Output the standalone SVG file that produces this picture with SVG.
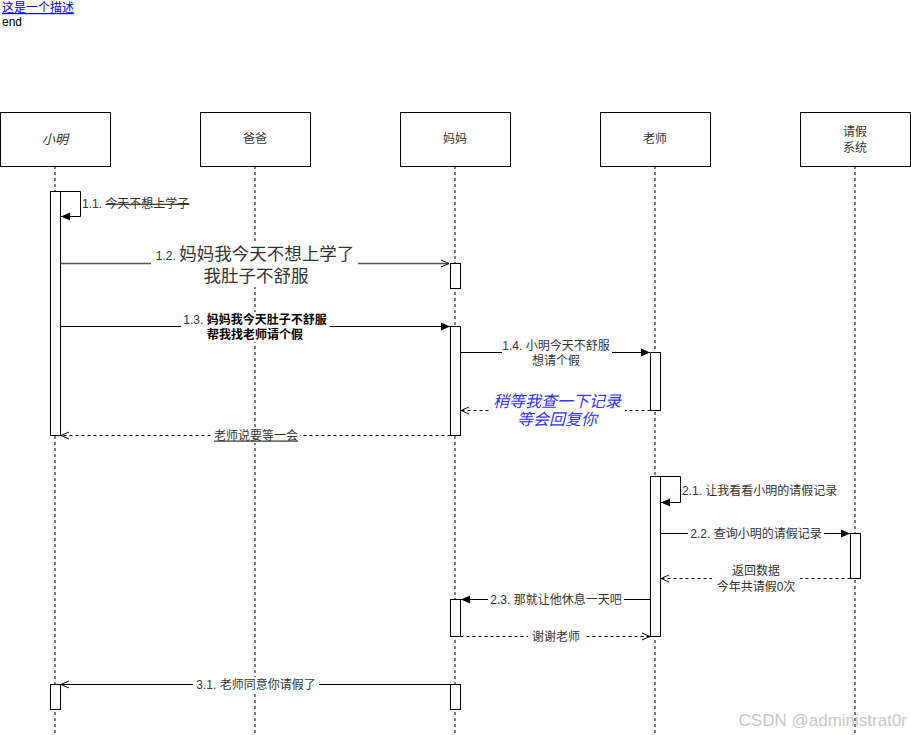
<svg xmlns="http://www.w3.org/2000/svg" width="911" height="735" viewBox="0 0 911 735">
<style>
text{font-family:"Liberation Sans","Noto Sans CJK SC",sans-serif;font-size:12px;fill:#333}
.c{text-anchor:middle}
.box{fill:#fff;stroke:#000;stroke-width:1}
.life{stroke:#000;stroke-dasharray:3 3;fill:none}
.act{fill:#fff;stroke:#000}
.msg{stroke:#000;fill:none}
.ret{stroke:#000;fill:none;stroke-dasharray:3 3}
.bg{fill:#fff}
</style>
<defs>
<marker id="fill" markerWidth="10" markerHeight="10" refX="9" refY="5" orient="auto" markerUnits="userSpaceOnUse"><path d="M0,1 L9,5 L0,9 Z" fill="#000"/></marker>
<marker id="open" markerWidth="10" markerHeight="10" refX="9" refY="5" orient="auto" markerUnits="userSpaceOnUse"><path d="M1,1.5 L9,5 L1,8.5" fill="none" stroke="#000"/></marker>
</defs>
<rect width="911" height="735" fill="#fff"/>
<text x="2" y="12" style="fill:#00e;text-decoration:underline">这是一个描述</text>
<text x="2" y="26" style="fill:#000">end</text>

<g id="xiaoming"><line class="life" x1="55" y1="166" x2="55" y2="735"/><rect class="box" x="0.5" y="112.5" width="110" height="54"/><text class="c" x="55" y="144" style="font-style:italic;font-size:13px">小明</text></g>
<g id="baba"><line class="life" x1="255" y1="166" x2="255" y2="735"/><rect class="box" x="200.5" y="112.5" width="110" height="54"/><text class="c" x="255" y="143">爸爸</text></g>
<g id="mama"><line class="life" x1="455" y1="166" x2="455" y2="735"/><rect class="box" x="400.5" y="112.5" width="110" height="54"/><text class="c" x="455" y="143">妈妈</text></g>
<g id="laoshi"><line class="life" x1="655" y1="166" x2="655" y2="735"/><rect class="box" x="600.5" y="112.5" width="110" height="54"/><text class="c" x="655" y="143">老师</text></g>
<g id="xitong"><line class="life" x1="855" y1="166" x2="855" y2="735"/><rect class="box" x="800.5" y="112.5" width="110" height="54"/><text class="c" x="855" y="136">请假</text><text class="c" x="855" y="152">系统</text></g>

<g id="activations">
<rect class="act" x="50.5" y="191.5" width="10" height="244"/>
<rect class="act" x="450.5" y="263.5" width="10" height="25"/>
<rect class="act" x="450.5" y="326.5" width="10" height="109"/>
<rect class="act" x="650.5" y="352.5" width="10" height="58"/>
<rect class="act" x="650.5" y="476.5" width="10" height="160"/>
<rect class="act" x="850.5" y="533.5" width="10" height="45"/>
<rect class="act" x="450.5" y="599.5" width="10" height="37"/>
<rect class="act" x="50.5" y="684.5" width="10" height="25"/>
<rect class="act" x="450.5" y="684.5" width="10" height="25"/>
</g>

<g id="connectors">
<path class="msg" d="M60.5,191.5 H80.5 V216.5 H61" marker-end="url(#fill)"/>
<path d="M60.5,263.5 H449" stroke="#555" stroke-width="1.3" fill="none" marker-end="url(#open)"/>
<path class="msg" d="M60.5,326.5 H450" marker-end="url(#fill)"/>
<path class="msg" d="M460.5,352.5 H650" marker-end="url(#fill)"/>
<path class="ret" d="M650.5,410.5 H461" marker-end="url(#open)"/>
<path class="ret" d="M450.5,435.5 H61" marker-end="url(#open)"/>
<path class="msg" d="M660.5,476.5 H680.5 V502.5 H661" marker-end="url(#fill)"/>
<path class="msg" d="M660.5,533.5 H850" marker-end="url(#fill)"/>
<path class="ret" d="M850.5,578.5 H661" marker-end="url(#open)"/>
<path class="msg" d="M650.5,599.5 H461" marker-end="url(#fill)"/>
<path class="ret" d="M460.5,636.5 H650" marker-end="url(#open)"/>
<path class="msg" d="M450.5,684.5 H61" marker-end="url(#open)"/>
</g>

<g id="labels">
<text x="82" y="208">1.1. <tspan style="text-decoration:line-through">今天不想上学子</tspan></text>

<rect class="bg" x="151" y="244" width="207" height="43"/>
<text class="c" x="255" y="260"><tspan style="font-size:12px">1.2. </tspan><tspan style="font-size:17.5px">妈妈我今天不想上学了</tspan></text>
<text class="c" x="256" y="282" style="font-size:17.5px">我肚子不舒服</text>

<rect class="bg" x="181" y="312" width="149" height="30"/>
<text class="c" x="255" y="323.5">1.3. <tspan style="font-weight:bold;fill:#000">妈妈我今天肚子不舒服</tspan></text>
<text class="c" x="255" y="338.5" style="font-weight:bold;fill:#000">帮我找老师请个假</text>

<rect class="bg" x="502" y="339" width="110" height="30"/>
<text class="c" x="556" y="350">1.4. 小明今天不舒服</text>
<text class="c" x="556" y="365">想请个假</text>

<rect class="bg" x="489" y="391" width="136" height="40"/>
<text class="c" x="557" y="407" style="font-size:16px;font-style:italic;fill:#3333ff">稍等我查一下记录</text>
<text class="c" x="557" y="425" style="font-size:16px;font-style:italic;fill:#3333ff">等会回复你</text>

<rect class="bg" x="212" y="428" width="88" height="15"/>
<text class="c" x="256" y="439.5" style="text-decoration:underline">老师说要等一会</text>

<text x="682" y="494.5">2.1. 让我看看小明的请假记录</text>

<rect class="bg" x="688" y="526" width="136" height="15"/>
<text class="c" x="756" y="537.5">2.2. 查询小明的请假记录</text>

<rect class="bg" x="712" y="562" width="88" height="32"/>
<text class="c" x="756" y="574.5">返回数据</text>
<text class="c" x="756" y="590.5">今年共请假0次</text>

<rect class="bg" x="488" y="592" width="136" height="15"/>
<text class="c" x="556" y="603.5">2.3. 那就让他休息一天吧</text>

<rect class="bg" x="528" y="629" width="56" height="15"/>
<text class="c" x="556" y="640.5">谢谢老师</text>

<rect class="bg" x="193" y="677" width="126" height="15"/>
<text class="c" x="256" y="688.5">3.1. 老师同意你请假了</text>
</g>

<text x="907" y="726" style="font-size:17px;fill:#c8c8c8;text-anchor:end">CSDN @administrat0r</text>
</svg>
